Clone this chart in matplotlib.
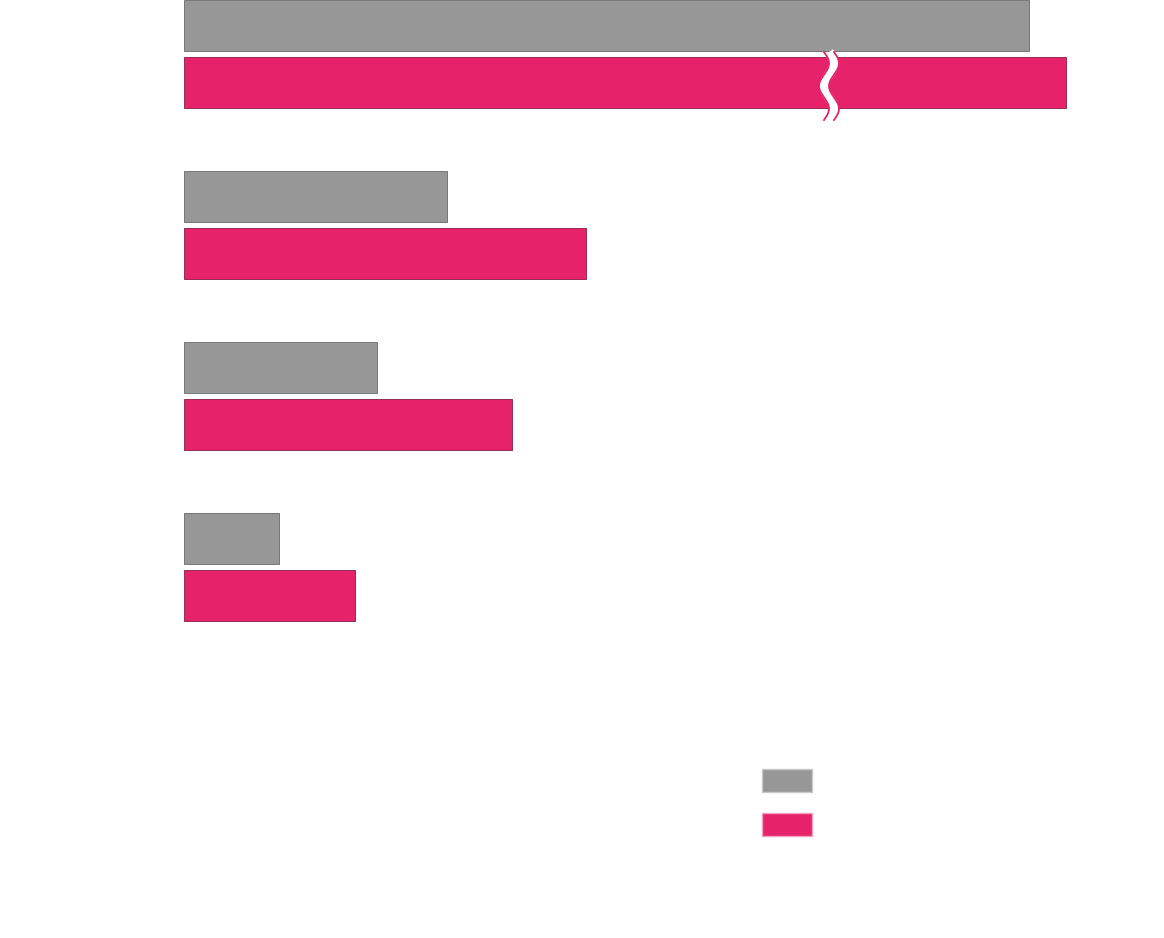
import matplotlib.pyplot as plt
import numpy as np
from matplotlib.patches import Patch

gray_vals = [845, 263, 193, 95]
pink_vals = [1300, 402, 328, 171]
pink_cap = 882      # top pink bar is drawn broken at this length
break_at = 645
gray_color = '#979797'
pink_color = '#e5226a'

fig = plt.figure(figsize=(11.64, 9.38), dpi=100)
ax = fig.add_axes([184 / 1164, 0, 980 / 1164, 1])
ax.set_xlim(0, 980)
ax.set_ylim(938, 0)
ax.axis('off')

group_gap = 171
gray_y = [26 + group_gap * i for i in range(len(gray_vals))]
pink_y = [83 + group_gap * i for i in range(len(pink_vals))]
pink_shown = [min(v, pink_cap) for v in pink_vals]

ax.barh(gray_y, gray_vals, height=51, color=gray_color, edgecolor='#6a6a6a', linewidth=0.6)
ax.barh(pink_y, pink_shown, height=51, color=pink_color, edgecolor='#8a1a45', linewidth=0.6)

# axis break on the clipped bar
t = np.linspace(52, 120, 200)
wx = break_at + 5 * np.sin((t - 52) / 68 * 2 * np.pi * 1.5)
ax.plot(wx, t, color='white', lw=7, solid_capstyle='butt', zorder=5)
ax.plot(wx - 5, t, color=pink_color, lw=1.3, zorder=6)
ax.plot(wx + 5, t, color=pink_color, lw=1.3, zorder=6)

handles = [Patch(facecolor=gray_color, edgecolor='#c8c8c8'),
           Patch(facecolor=pink_color, edgecolor='#f0a0c0')]
ax.legend(handles, [' ', ' '], frameon=False, fontsize=10,
          handlelength=3.67, handleheight=2.23, labelspacing=1.5,
          loc='upper left', bbox_to_anchor=((757 - 184 - 8) / 980, 1 - 756 / 938))

fig.savefig('out.png', dpi=100)
